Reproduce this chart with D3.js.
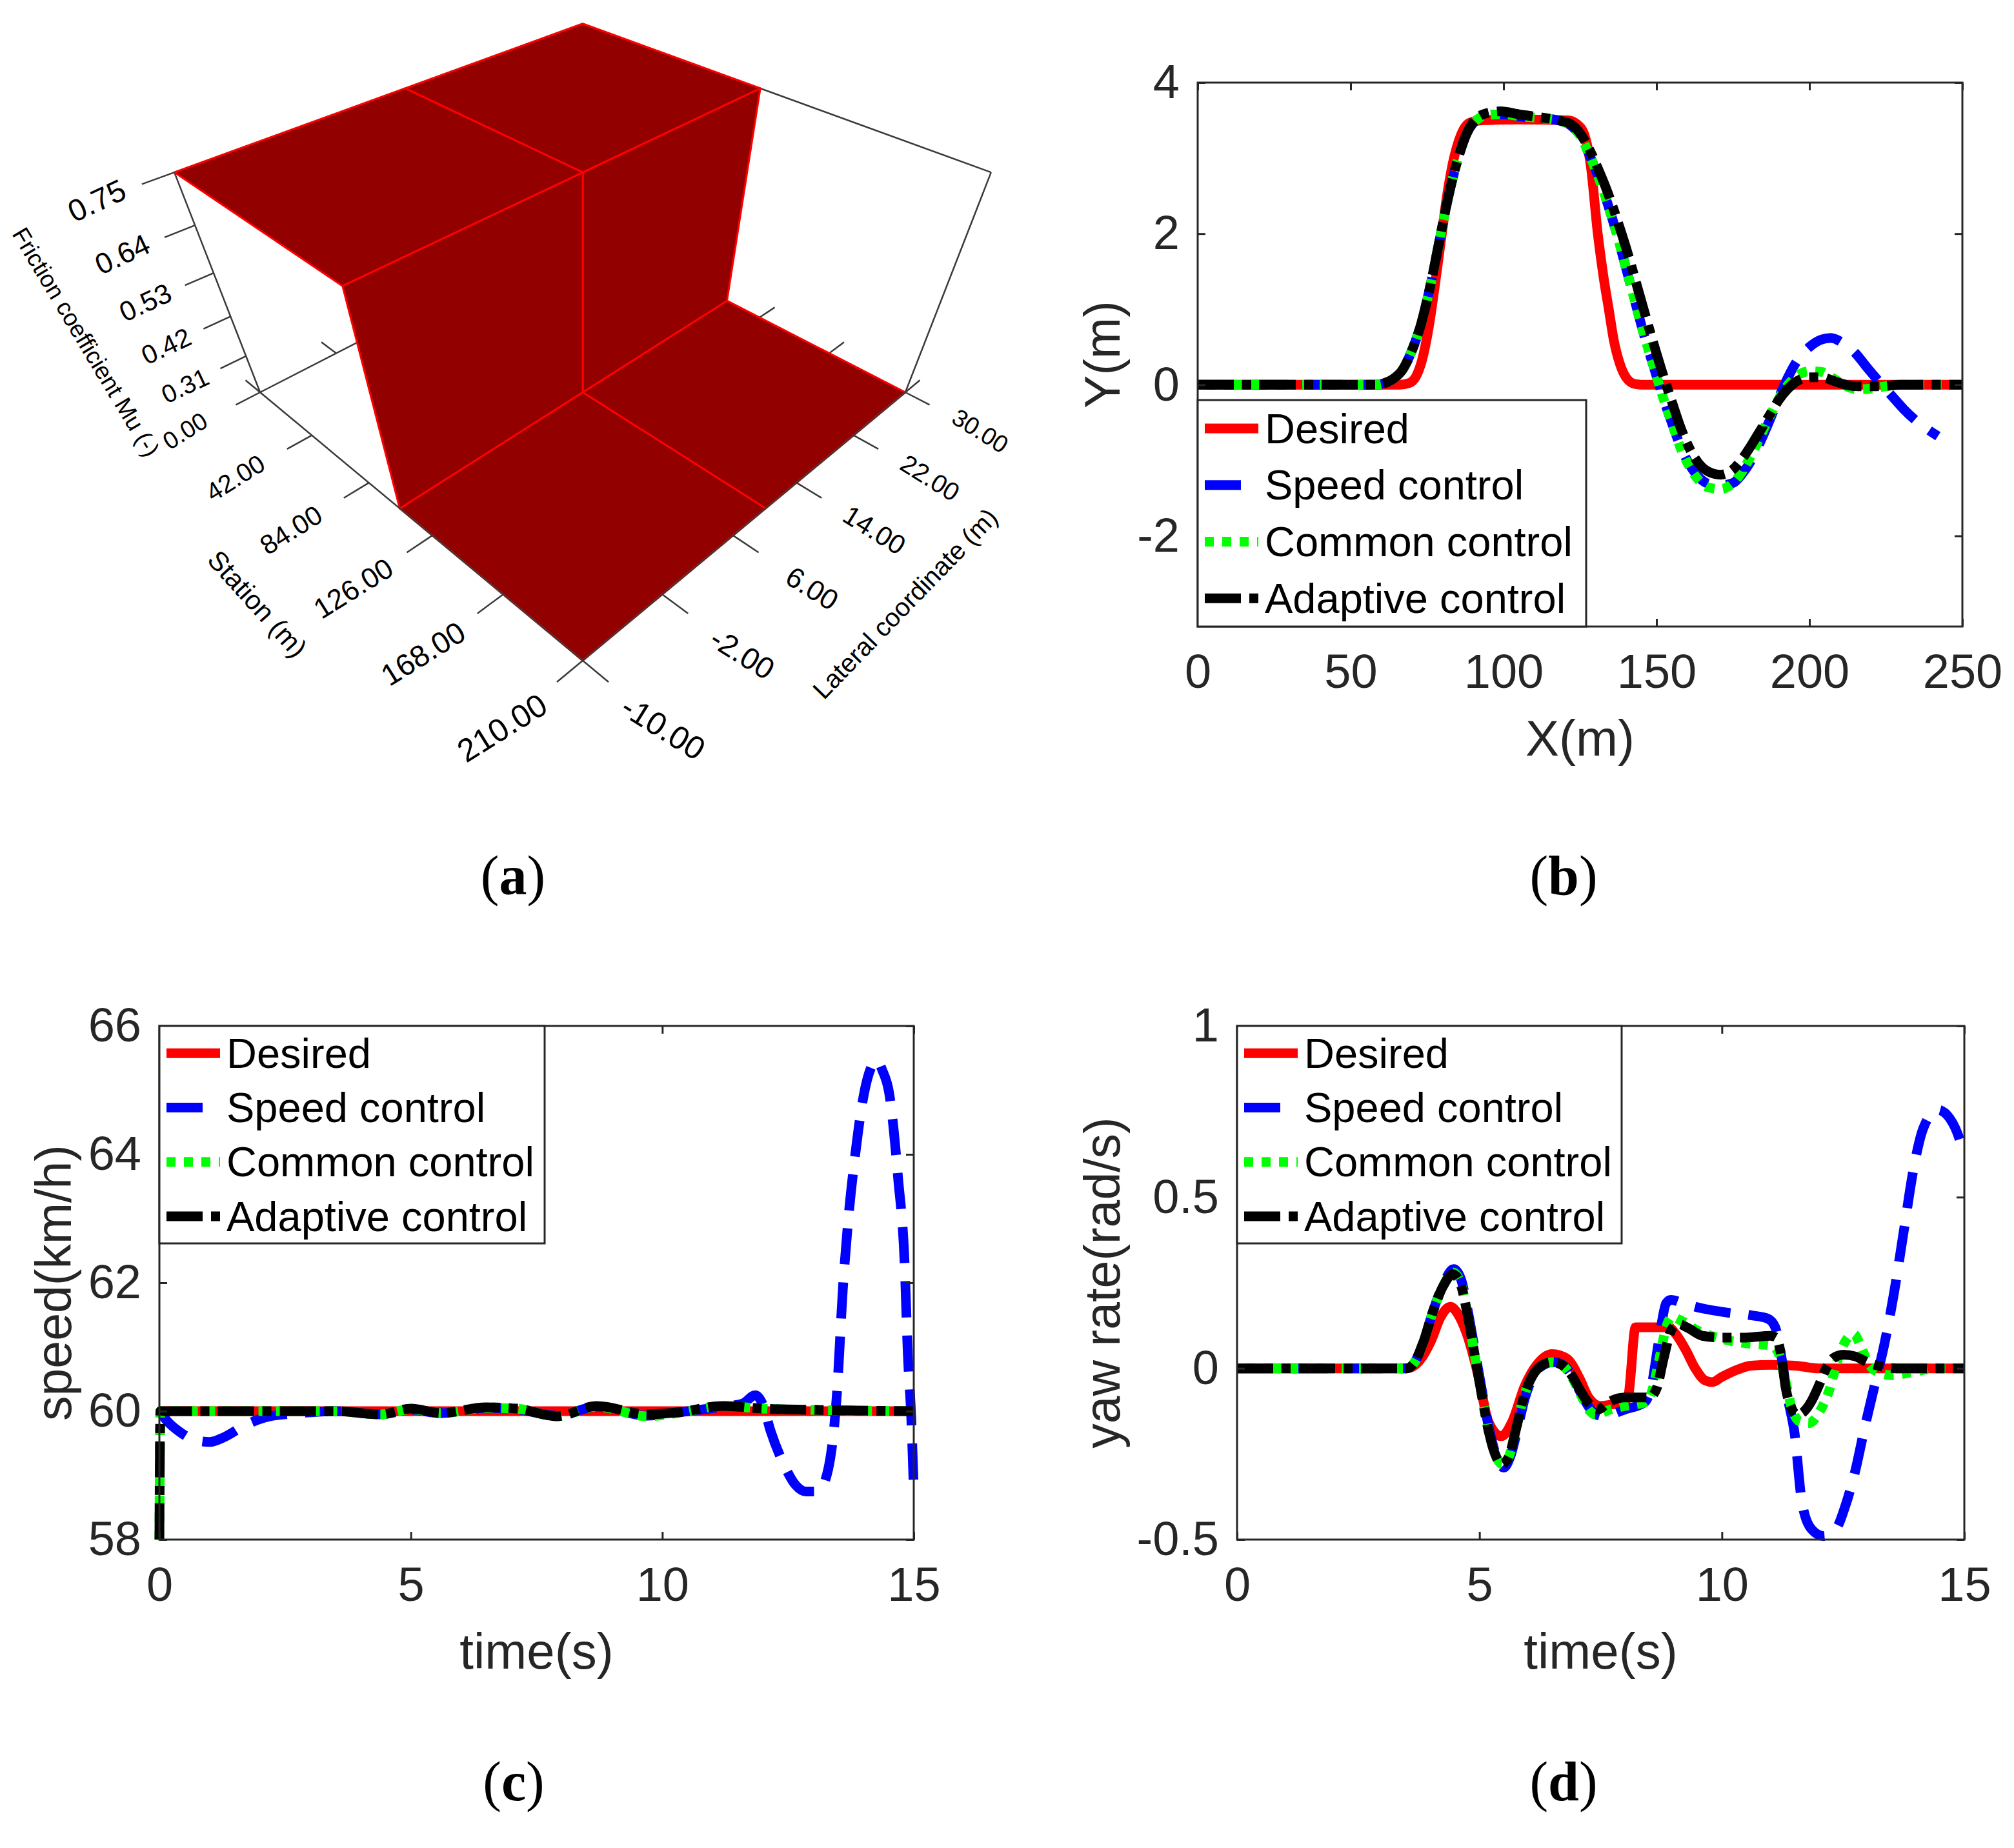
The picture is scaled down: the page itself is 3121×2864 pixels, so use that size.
<!DOCTYPE html>
<html>
<head>
<meta charset="utf-8">
<script src="https://cdn.jsdelivr.net/npm/d3@7"></script>
<style>
  body { margin: 0; background: #fff; }
  svg { display: block; }
</style>
</head>
<body>
<div id="chart"></div>
<script>
// ---------- (a) road friction surface ----------
var stationNodes = [0, 105, 105, 210];
var lateralNodes = [-10, 10, 30];
var muGrid = [
    [0.75, 0.75, 0.75],
    [0.75, 0.75, 0.75],
    [0.2, 0.2, 0.2],
    [0.2, 0.2, 0.2]
];
var stationTicks = [0, 42, 84, 126, 168, 210];
var lateralTicks = [-10, -2, 6, 14, 22, 30];
var muTicks = [0.31, 0.42, 0.53, 0.64, 0.75];

// ---------- shared legend ----------
var seriesNames = ["Desired", "Speed control", "Common control", "Adaptive control"];

// ---------- (b) path, X(m) vs Y(m) ----------
var pathTicksX = [0, 50, 100, 150, 200, 250];
var pathTicksY = [-2, 0, 2, 4];
var bDesired = [[0,0],[66,0],[69,0.02],[71.5,0.12],[73.5,0.35],[75.5,0.75],[77.5,1.3],[79.5,1.9],[81.5,2.5],[83.5,2.95],[86,3.3],[89,3.47],[93,3.5],[105,3.51],[121,3.5],[124,3.45],[126.5,3.3],[128.5,2.9],[130.8,2.0],[132.6,1.45],[134.4,1.0],[136,0.6],[138,0.28],[140,0.1],[143,0.01],[146,0],[250,0]];
var bSpeed = [[0,0],[58,0],[61,0.02],[64,0.08],[67,0.2],[70,0.45],[73,0.8],[76,1.3],[79,1.9],[82,2.5],[85,2.98],[88,3.33],[91,3.5],[95,3.57],[100,3.58],[106,3.55],[112,3.53],[118,3.5],[122,3.43],[125,3.3],[128,3.05],[131,2.75],[134,2.4],[137,2.0],[140,1.55],[143,1.1],[146,0.65],[149,0.25],[152,-0.15],[155,-0.5],[158,-0.83],[161,-1.07],[164,-1.23],[167,-1.31],[171,-1.33],[175,-1.3],[178,-1.18],[181,-1.0],[184,-0.75],[187,-0.47],[190,-0.17],[193,0.1],[196,0.32],[200,0.5],[204,0.6],[207,0.62],[211,0.55],[215,0.42],[219,0.22],[223,0.03],[227,-0.15],[231,-0.33],[235,-0.48],[239,-0.6],[242,-0.68]];
var bCommon = [[0,0],[58,0],[61,0.02],[64,0.08],[67,0.2],[70,0.45],[73,0.8],[76,1.3],[79,1.9],[82,2.5],[85,2.98],[88,3.33],[91,3.5],[95,3.57],[100,3.58],[106,3.55],[112,3.53],[118,3.5],[122,3.43],[125,3.3],[128,3.05],[131,2.75],[134,2.4],[137,2.0],[140,1.55],[143,1.1],[146,0.65],[149,0.25],[152,-0.15],[155,-0.5],[158,-0.85],[161,-1.1],[164,-1.27],[167,-1.36],[171,-1.38],[175,-1.3],[178,-1.15],[181,-0.93],[184,-0.68],[187,-0.42],[190,-0.18],[193,0.0],[196,0.12],[200,0.18],[204,0.17],[208,0.08],[212,-0.02],[216,-0.06],[220,-0.05],[225,-0.02],[230,0],[250,0]];
var bAdaptive = [[0,0],[58,0],[61,0.02],[64,0.08],[67,0.2],[70,0.45],[73,0.8],[76,1.3],[79,1.9],[82,2.5],[85,2.98],[88,3.33],[91,3.52],[95,3.6],[99,3.62],[105,3.58],[112,3.54],[118,3.5],[122,3.45],[125,3.33],[128,3.12],[131,2.85],[134,2.55],[137,2.2],[140,1.82],[143,1.4],[146,0.97],[149,0.55],[152,0.15],[155,-0.22],[158,-0.58],[161,-0.86],[164,-1.05],[167,-1.15],[171,-1.19],[175,-1.12],[178,-0.98],[181,-0.8],[184,-0.6],[187,-0.4],[190,-0.2],[193,-0.05],[196,0.05],[200,0.1],[204,0.1],[208,0.05],[212,0.0],[216,-0.02],[222,-0.02],[230,0],[250,0]];

// ---------- (c) speed(km/h) vs time(s) ----------
var timeTicks = [0, 5, 10, 15];
var speedTicksY = [58, 60, 62, 64, 66];
var cDesired = [[0,60],[15,60]];
var cSpeed = [[0,60],[0.15,59.85],[0.4,59.68],[0.7,59.55],[1.0,59.52],[1.3,59.6],[1.7,59.78],[2.2,59.92],[2.8,59.97],[3.5,60],[4.4,59.95],[5.0,60.02],[5.6,59.97],[6.5,60.05],[7.1,60.03],[7.9,59.93],[8.7,60.07],[9.7,59.93],[10.3,59.98],[11.2,60.07],[11.6,60.12],[11.85,60.25],[12.0,60.1],[12.15,59.7],[12.4,59.2],[12.65,58.85],[12.85,58.75],[13.1,58.75],[13.3,59.1],[13.47,60.25],[13.59,61.9],[13.7,63.0],[13.83,63.95],[14.0,64.9],[14.15,65.35],[14.26,65.47],[14.38,65.3],[14.51,64.96],[14.69,63.62],[14.82,62.27],[14.88,60.92],[14.95,59.9],[15,58.8]];
var cCommon = [[0,58],[0.02,60],[3.5,60],[4.4,59.95],[5.0,60.03],[5.6,59.97],[6.5,60.05],[7.1,60.04],[7.9,59.92],[8.7,60.07],[9.7,59.92],[10.3,59.97],[11.2,60.08],[12.0,60.04],[13,60.02],[15,60]];
var cAdaptive = [[0,58],[0.02,60],[3.5,60],[4.4,59.95],[5.0,60.04],[5.6,59.97],[6.5,60.06],[7.1,60.04],[7.9,59.92],[8.7,60.08],[9.7,59.95],[10.3,59.98],[11.2,60.08],[12.0,60.04],[13,60.02],[15,60]];

// ---------- (d) yaw rate(rad/s) vs time(s) ----------
var yawTicksY = [-0.5, 0, 0.5, 1];
var dDesired = [[0,0],[3.5,0],[3.75,0.02],[4.0,0.08],[4.2,0.15],[4.4,0.18],[4.55,0.16],[4.74,0.1],[4.99,-0.03],[5.18,-0.154],[5.45,-0.198],[5.68,-0.154],[5.93,-0.053],[6.18,0.01],[6.5,0.042],[6.8,0.029],[7.06,-0.028],[7.25,-0.085],[7.5,-0.11],[7.75,-0.105],[8.0,-0.095],[8.07,-0.08],[8.22,0.12],[8.9,0.12],[9.05,0.1],[9.25,0.055],[9.45,0.0],[9.65,-0.035],[9.8,-0.04],[10.0,-0.025],[10.3,-0.005],[10.6,0.008],[11.0,0.01],[11.5,0.008],[12,0],[15,0]];
var dSpeed = [[0,0],[3.5,0],[3.65,0.015],[3.85,0.08],[4.05,0.17],[4.25,0.245],[4.47,0.29],[4.62,0.26],[4.77,0.16],[4.92,0.04],[5.07,-0.08],[5.22,-0.19],[5.37,-0.265],[5.5,-0.29],[5.63,-0.26],[5.78,-0.18],[5.93,-0.09],[6.12,-0.02],[6.32,0.01],[6.52,0.018],[6.72,0.01],[6.92,-0.025],[7.12,-0.08],[7.32,-0.125],[7.55,-0.14],[8.0,-0.12],[8.4,-0.1],[8.55,-0.05],[8.7,0.08],[8.85,0.19],[8.95,0.2],[9.2,0.19],[9.6,0.175],[10.1,0.163],[10.6,0.155],[10.95,0.145],[11.1,0.12],[11.22,0.04],[11.35,-0.08],[11.5,-0.19],[11.65,-0.39],[11.85,-0.47],[12.1,-0.49],[12.35,-0.47],[12.55,-0.4],[12.75,-0.3],[12.95,-0.17],[13.15,-0.05],[13.35,0.07],[13.55,0.22],[13.75,0.4],[13.95,0.58],[14.15,0.7],[14.45,0.755],[14.7,0.73],[14.9,0.67],[15,0.62]];
var dCommon = [[0,0],[3.5,0],[3.65,0.015],[3.85,0.08],[4.05,0.17],[4.25,0.24],[4.45,0.28],[4.6,0.255],[4.75,0.16],[4.9,0.04],[5.05,-0.08],[5.2,-0.19],[5.35,-0.26],[5.47,-0.28],[5.6,-0.26],[5.75,-0.18],[5.9,-0.09],[6.1,-0.02],[6.3,0.01],[6.5,0.018],[6.7,0.01],[6.9,-0.025],[7.1,-0.08],[7.25,-0.12],[7.4,-0.135],[7.7,-0.12],[8.0,-0.11],[8.4,-0.1],[8.55,-0.07],[8.7,0.02],[8.85,0.12],[8.97,0.15],[9.15,0.14],[9.5,0.11],[10.0,0.086],[10.5,0.073],[11.0,0.067],[11.15,0.05],[11.3,-0.03],[11.45,-0.12],[11.6,-0.155],[11.8,-0.16],[12.0,-0.13],[12.2,-0.07],[12.4,0.03],[12.6,0.09],[12.72,0.1],[12.85,0.07],[13.0,0.02],[13.2,-0.01],[13.5,-0.02],[13.9,-0.012],[14.4,0],[15,0]];
var dAdaptive = [[0,0],[3.5,0],[3.65,0.015],[3.85,0.08],[4.05,0.17],[4.25,0.24],[4.45,0.275],[4.6,0.25],[4.75,0.16],[4.9,0.04],[5.05,-0.08],[5.2,-0.19],[5.35,-0.26],[5.45,-0.28],[5.6,-0.26],[5.75,-0.18],[5.9,-0.09],[6.1,-0.02],[6.3,0.01],[6.5,0.018],[6.7,0.01],[6.9,-0.02],[7.1,-0.07],[7.3,-0.11],[7.45,-0.12],[7.65,-0.1],[8.0,-0.085],[8.5,-0.085],[8.65,-0.06],[8.8,0.03],[8.95,0.11],[9.1,0.13],[9.3,0.118],[9.6,0.095],[10.0,0.09],[10.5,0.09],[11.0,0.095],[11.12,0.09],[11.22,0.04],[11.32,-0.06],[11.45,-0.12],[11.55,-0.135],[11.7,-0.125],[11.85,-0.095],[12.0,-0.05],[12.15,0.0],[12.3,0.03],[12.5,0.04],[12.75,0.035],[13.0,0.018],[13.3,0.005],[13.6,0],[15,0]];

var lineColors = ["#ff0000", "#0000ff", "#00ff00", "#000000"];
var lineDash = [null, "56,28", "14,13", "56,13,14,13"];
var sansFont = "'Liberation Sans', Arial, Helvetica, sans-serif";
var serifFont = "'Liberation Serif', 'Times New Roman', serif";
var axisInk = "#262626";

var svg = d3.select("#chart").append("svg")
    .attr("width", 3121)
    .attr("height", 2864);

svg.append("rect").attr("width", 3121).attr("height", 2864).attr("fill", "#fff");

// ---------- panel (a) ----------
var su = d3.scaleLinear().domain([0, 210]).range([0, 1]);
var sv = d3.scaleLinear().domain([-10, 30]).range([0, 1]);
var sw = d3.scaleLinear().domain([0.2, 0.75]).range([0, 1]);

// perspective view of the unit box, seen from above the front corner
var project = function(u, v, t) {
    var p = u - 0.5, q = 0.5 - v;
    var r = (p - q) / Math.SQRT2, s = (p + q) / Math.SQRT2;
    var z = 1 - 0.335 * s - 0.21 * t;
    return [903 + 707 * r / z, (608 + 245 * s - 397 * t) / z, z];
};

var ga = svg.append("g");
var seg = function(a, b, color, width) {
    var p0 = project(a[0], a[1], a[2]), p1 = project(b[0], b[1], b[2]);
    ga.append("line")
        .attr("x1", p0[0]).attr("y1", p0[1])
        .attr("x2", p1[0]).attr("y2", p1[1])
        .attr("stroke", color).attr("stroke-width", width);
};

// back edges of the box
var boxInk = "#3a3a3a";
seg([0,0,0],[0,0,1], boxInk, 2.5);
seg([1,1,0],[1,1,1], boxInk, 2.5);
seg([0,0,1],[0,1,1], boxInk, 2.5);
seg([0,1,1],[1,1,1], boxInk, 2.5);
seg([0,0,0],[0,1,0], boxInk, 2.5);
seg([0,1,0],[1,1,0], boxInk, 2.5);
seg([0,1,0],[0,1,1], boxInk, 2.5);
lateralTicks.forEach(function(d) { seg([0, sv(d), 0], [-0.06, sv(d), 0], boxInk, 2.5); });
stationTicks.forEach(function(d) { seg([su(d), 1, 0], [su(d), 1.06, 0], boxInk, 2.5); });

// surface cells, far ones first
var cells = [];
for (var i = 0; i < stationNodes.length - 1; i++) {
    for (var j = 0; j < lateralNodes.length - 1; j++) {
        var corners = [[i, j], [i + 1, j], [i + 1, j + 1], [i, j + 1]].map(function(c) {
            return project(su(stationNodes[c[0]]), sv(lateralNodes[c[1]]), sw(muGrid[c[0]][c[1]]));
        });
        cells.push({ pts: corners, depth: d3.mean(corners, function(c) { return c[2]; }) });
    }
}
cells.sort(function(a, b) { return b.depth - a.depth; });
ga.selectAll("path.cell").data(cells).enter().append("path")
    .attr("class", "cell")
    .attr("d", function(d) { return "M" + d.pts.map(function(c) { return c[0] + "," + c[1]; }).join("L") + "Z"; })
    .attr("fill", "#920000")
    .attr("stroke", "#ff0000")
    .attr("stroke-width", 3)
    .attr("stroke-linejoin", "round");

// front axes
seg([0,0,0],[1,0,0], boxInk, 2.5);
seg([1,0,0],[1,1,0], boxInk, 2.5);
stationTicks.forEach(function(d) { seg([su(d), 0, 0], [su(d), -0.06, 0], boxInk, 2.5); });
lateralTicks.forEach(function(d) { seg([1, sv(d), 0], [1.06, sv(d), 0], boxInk, 2.5); });
muTicks.forEach(function(d) { seg([0, 0, sw(d)], [0, -0.06, sw(d)], boxInk, 2.5); });

var label3d = function(pos, text, angle, size) {
    var p = project(pos[0], pos[1], pos[2]);
    ga.append("text")
        .attr("transform", "translate(" + p[0] + "," + p[1] + ") rotate(" + angle + ")")
        .attr("text-anchor", "middle")
        .attr("dy", "0.35em")
        .style("font-family", sansFont)
        .style("font-size", (size || 36 / p[2]) + "px")
        .attr("fill", "#000")
        .text(text);
};
var fmt2 = function(d) { return d3.format(".2f")(d).replace("\u2212", "-"); };
muTicks.forEach(function(d) { label3d([0, -0.14, sw(d)], fmt2(d), -25); });
stationTicks.forEach(function(d) { label3d([su(d), -0.18, 0], fmt2(d), -32); });
lateralTicks.forEach(function(d) { label3d([1.18, sv(d), 0], fmt2(d), 32); });
label3d([0, -0.265, 0.55], "Friction coefficient Mu (-)", 59, 37);
label3d([0.51, -0.32, 0], "Station (m)", 48, 42);
label3d([1.316, 0.487, 0], "Lateral coordinate (m)", -46, 40);

// ---------- 2D panels ----------
var drawPanel = function(cfg) {
    var x = d3.scaleLinear().domain(cfg.xDomain).range([cfg.left, cfg.right]);
    var y = d3.scaleLinear().domain(cfg.yDomain).range([cfg.bottom, cfg.top]);
    var g = svg.append("g");

    g.append("clipPath").attr("id", cfg.id + "-clip")
        .append("rect")
        .attr("x", cfg.left - 8).attr("y", cfg.top - 8)
        .attr("width", cfg.right - cfg.left + 16)
        .attr("height", cfg.bottom - cfg.top + 16);

    var line = d3.line()
        .x(function(d) { return x(d[0]); })
        .y(function(d) { return y(d[1]); })
        .curve(d3.curveMonotoneX);

    var lines = g.append("g").attr("clip-path", "url(#" + cfg.id + "-clip)");
    cfg.series.forEach(function(s, k) {
        lines.append("path")
            .attr("d", line(s))
            .attr("fill", "none")
            .attr("stroke", lineColors[k])
            .attr("stroke-width", 15)
            .attr("stroke-dasharray", lineDash[k]);
    });

    var styleAxis = function(sel) {
        sel.select(".domain").remove();
        sel.selectAll(".tick line").attr("stroke", axisInk).attr("stroke-width", 3);
        sel.selectAll(".tick text")
            .attr("fill", axisInk)
            .style("font-family", sansFont)
            .style("font-size", "74px");
    };
    var plain = function(d) { return String(d); };

    g.append("g").attr("transform", "translate(0," + cfg.bottom + ")")
        .call(d3.axisBottom(x).tickValues(cfg.xTicks).tickFormat(plain)
            .tickSizeInner(-12).tickSizeOuter(0).tickPadding(42))
        .call(styleAxis);
    g.append("g").attr("transform", "translate(0," + cfg.top + ")")
        .call(d3.axisTop(x).tickValues(cfg.xTicks).tickFormat("")
            .tickSizeInner(-12).tickSizeOuter(0))
        .call(styleAxis);
    g.append("g").attr("transform", "translate(" + cfg.left + ",0)")
        .call(d3.axisLeft(y).tickValues(cfg.yTicks).tickFormat(plain)
            .tickSizeInner(-12).tickSizeOuter(0).tickPadding(28))
        .call(styleAxis);
    g.append("g").attr("transform", "translate(" + cfg.right + ",0)")
        .call(d3.axisRight(y).tickValues(cfg.yTicks).tickFormat("")
            .tickSizeInner(-12).tickSizeOuter(0))
        .call(styleAxis);

    g.append("rect")
        .attr("x", cfg.left).attr("y", cfg.top)
        .attr("width", cfg.right - cfg.left).attr("height", cfg.bottom - cfg.top)
        .attr("fill", "none").attr("stroke", axisInk).attr("stroke-width", 3);

    // axis titles
    g.append("text")
        .attr("x", (cfg.left + cfg.right) / 2).attr("y", cfg.bottom + 200)
        .attr("text-anchor", "middle")
        .attr("fill", axisInk)
        .style("font-family", sansFont).style("font-size", "78px")
        .text(cfg.xTitle);
    g.append("text")
        .attr("transform", "translate(" + cfg.yTitleX + "," + (cfg.top + cfg.bottom) / 2 + ") rotate(-90)")
        .attr("text-anchor", "middle")
        .attr("fill", axisInk)
        .style("font-family", sansFont).style("font-size", "77px")
        .text(cfg.yTitle);

    // legend
    var lg = g.append("g");
    lg.append("rect")
        .attr("x", cfg.left).attr("y", cfg.legendTop)
        .attr("width", cfg.legendRight - cfg.left).attr("height", cfg.legendBottom - cfg.legendTop)
        .attr("fill", "#fff").attr("stroke", axisInk).attr("stroke-width", 3);
    var rowH = (cfg.legendBottom - cfg.legendTop) / seriesNames.length;
    seriesNames.forEach(function(name, k) {
        var cy = cfg.legendTop + rowH * (k + 0.5);
        lg.append("line")
            .attr("x1", cfg.left + 11).attr("x2", cfg.left + 94)
            .attr("y1", cy).attr("y2", cy)
            .attr("stroke", lineColors[k]).attr("stroke-width", 15)
            .attr("stroke-dasharray", lineDash[k]);
        lg.append("text")
            .attr("x", cfg.left + 104).attr("y", cy).attr("dy", "0.35em")
            .attr("fill", "#000")
            .style("font-family", sansFont).style("font-size", "65px")
            .text(name);
    });
};

drawPanel({
    id: "pb", left: 1856, right: 3041, top: 128, bottom: 971,
    xDomain: [0, 250], yDomain: [-3.2, 4],
    xTicks: pathTicksX, yTicks: pathTicksY,
    series: [bDesired, bSpeed, bCommon, bAdaptive],
    xTitle: "X(m)", yTitle: "Y(m)", yTitleX: 1735,
    legendTop: 620, legendBottom: 971, legendRight: 2458
});
drawPanel({
    id: "pc", left: 247, right: 1416, top: 1590, bottom: 2386,
    xDomain: [0, 15], yDomain: [58, 66],
    xTicks: timeTicks, yTicks: speedTicksY,
    series: [cDesired, cSpeed, cCommon, cAdaptive],
    xTitle: "time(s)", yTitle: "speed(km/h)", yTitleX: 110,
    legendTop: 1590, legendBottom: 1927, legendRight: 844
});
drawPanel({
    id: "pd", left: 1917, right: 3044, top: 1590, bottom: 2386,
    xDomain: [0, 15], yDomain: [-0.5, 1],
    xTicks: timeTicks, yTicks: yawTicksY,
    series: [dDesired, dSpeed, dCommon, dAdaptive],
    xTitle: "time(s)", yTitle: "yaw rate(rad/s)", yTitleX: 1735,
    legendTop: 1590, legendBottom: 1927, legendRight: 2513
});

// ---------- sub-figure captions ----------
var captions = [["a", 795, 1386], ["b", 2423, 1386], ["c", 796, 2790], ["d", 2423, 2790]];
captions.forEach(function(c) {
    var t = svg.append("text")
        .attr("x", c[1]).attr("y", c[2])
        .attr("text-anchor", "middle")
        .attr("fill", "#000")
        .style("font-family", serifFont).style("font-size", "86px");
    t.append("tspan").text("(");
    t.append("tspan").style("font-weight", "bold").text(c[0]);
    t.append("tspan").text(")");
});
</script>
</body>
</html>
